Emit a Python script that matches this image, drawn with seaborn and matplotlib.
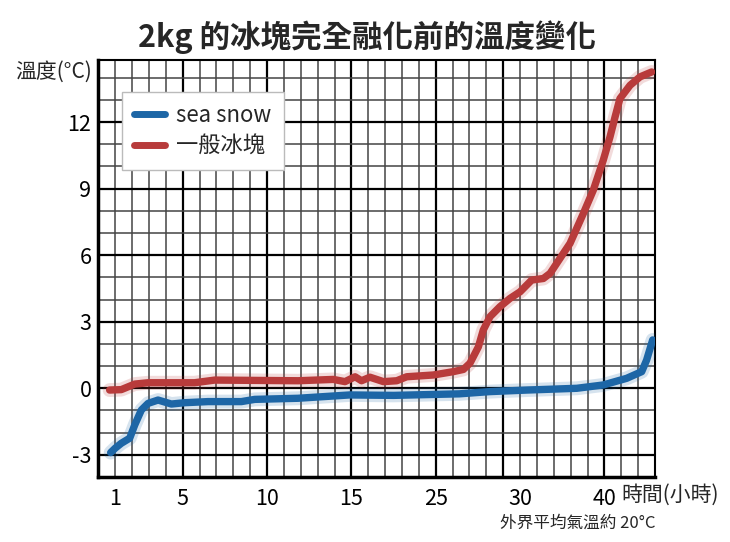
import numpy as np
import pandas as pd
import seaborn as sns
import matplotlib.pyplot as plt
import matplotlib.patheffects as pe

sns.set_theme(style="white")
plt.rcParams['font.family'] = ['Noto Sans CJK TC', 'DejaVu Sans']
plt.rcParams['axes.unicode_minus'] = False

# x positions are grid columns of the paper chart (the hour scale is uneven)
tick_pos = [1, 5, 10, 15, 20, 25, 30]
tick_labels = ['1', '5', '10', '15', '25', '30', '40']
ytick_vals = [-3, 0, 3, 6, 9, 12]

snow_x = [0.73, 1.0, 1.36, 1.86, 2.16, 2.55, 2.95, 3.54, 4.33, 5.12, 6.5, 8.48,
          9.27, 11.84, 14.9, 17.5, 21.4, 23.2, 25.4, 28.36, 29.93, 31.32, 32.21,
          32.5, 32.86]
snow_y = [-2.9, -2.7, -2.48, -2.25, -1.65, -0.98, -0.68, -0.53, -0.71, -0.65, -0.6, -0.6,
          -0.5, -0.45, -0.3, -0.32, -0.25, -0.15, -0.08, 0.0, 0.15, 0.45, 0.75,
          1.27, 2.18]

ice_x = [0.67, 1.36, 2.16, 2.95, 5.7, 6.9, 11.84, 13.93, 14.62, 15.22, 15.6, 16.1,
         16.9, 17.69, 18.28, 19.86, 21.04, 21.64, 22.03, 22.53, 22.82, 23.22, 23.81,
         24.4, 25.0, 25.69, 26.38, 26.78, 27.37, 27.96, 28.75, 29.34, 29.93, 30.33,
         30.63, 30.92, 31.52, 32.11, 32.8]
ice_y = [-0.08, -0.06, 0.19, 0.25, 0.25, 0.37, 0.34, 0.4, 0.3, 0.52, 0.34, 0.5,
         0.3, 0.34, 0.52, 0.6, 0.75, 0.85, 1.13, 1.87, 2.63, 3.23, 3.68,
         4.05, 4.35, 4.88, 4.95, 5.18, 5.86, 6.53, 7.88, 8.93, 10.28, 11.33,
         12.23, 13.06, 13.66, 14.04, 14.26]

blue = '#1d66a6'
red = '#b83b3b'

fig = plt.figure(figsize=(7.3, 5.42), dpi=100)
ax = fig.add_axes([0.1347, 0.1199, 0.7626, 0.7694])

# paper grid
for gx in range(1, 33):
    thick = gx in (5, 10, 15, 20, 24, 30)
    ax.axvline(gx, color='black' if thick else '#444444', lw=1.6 if thick else 1.1, zorder=0)
for gy in range(-3, 15):
    thick = gy in ytick_vals
    ax.axhline(gy, color='black' if thick else '#444444', lw=1.6 if thick else 1.1, zorder=0)

glow = lambda c: [pe.Stroke(linewidth=10, foreground=c, alpha=0.18), pe.Normal()]
sns.lineplot(x=snow_x, y=snow_y, sort=False, color=blue, lw=5.3, ax=ax,
             label='sea snow', path_effects=glow(blue), solid_capstyle='round', zorder=3)
sns.lineplot(x=ice_x, y=ice_y, sort=False, color=red, lw=5.3, ax=ax,
             label='一般冰塊', path_effects=glow(red), solid_capstyle='round', zorder=3)

ax.set_xlim(0, 33)
ax.set_ylim(-4, 14.8)
ax.set_xticks(tick_pos)
ax.set_xticklabels(tick_labels)
ax.set_yticks(ytick_vals)
ax.tick_params(axis='both', length=0, labelsize=15.5, colors='black')
ax.tick_params(axis='x', pad=8)
ax.tick_params(axis='y', pad=5)

for s in ['left', 'bottom']:
    ax.spines[s].set_linewidth(2.5)
    ax.spines[s].set_color('black')
for s in ['top', 'right']:
    ax.spines[s].set_linewidth(1.5)
    ax.spines[s].set_color('black')

leg = ax.legend(loc='upper left', bbox_to_anchor=(0.042, 0.924), borderaxespad=0,
                fontsize=16, handlelength=1.4, handletextpad=0.5, labelspacing=0.35,
                borderpad=0.55, fancybox=False, framealpha=1, edgecolor='#bbbbbb')
for h in leg.get_lines():
    h.set_linewidth(5)
    h.set_path_effects([])

fig.text(0.503, 0.932, '2kg 的冰塊完全融化前的溫度變化', ha='center', va='center',
         fontsize=22, fontweight='bold')
fig.text(92 / 730, 1 - 72 / 542, '溫度(°C)', ha='right', va='center', fontsize=15)
fig.text(621 / 730, 1 - 495 / 542, '時間(小時)', ha='left', va='center', fontsize=15)
fig.text(655 / 730, 1 - 523 / 542, '外界平均氣溫約 20°C', ha='right', va='center', fontsize=12)

fig.savefig('out.png', dpi=100)
